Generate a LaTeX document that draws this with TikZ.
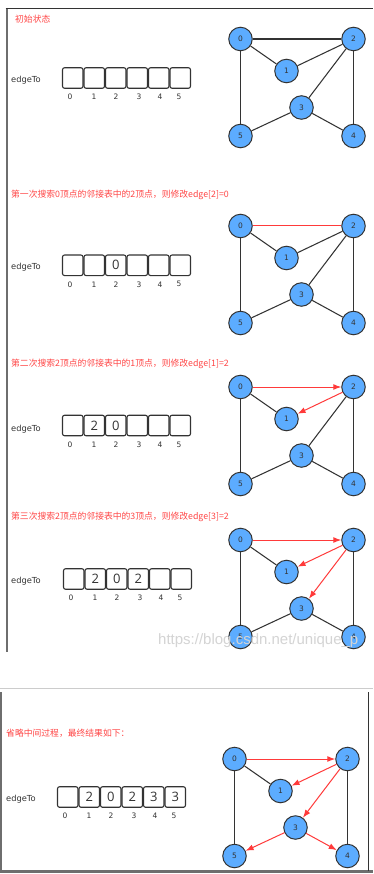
\documentclass[tikz,border=0pt]{standalone}
\usepackage{fontspec}
\setmainfont{DejaVu Sans}
\newfontfamily\cjkfont{Noto Sans CJK SC}
\newfontfamily\valfont{Open Sans}
\newfontfamily\wmfont{Liberation Sans}
\usetikzlibrary{arrows.meta}

\definecolor{nodeblue}{RGB}{92,172,255}
\definecolor{edgegray}{RGB}{51,51,51}
\definecolor{hired}{RGB}{255,58,58}
\definecolor{notered}{RGB}{255,70,70}
\definecolor{framegray}{RGB}{110,110,110}

\tikzset{
  vertex/.style={circle, draw=edgegray, fill=nodeblue, line width=1pt,
    minimum size=23.5pt, inner sep=0pt, text=edgegray,
    font=\fontsize{7.5}{8}\selectfont},
  edge/.style={draw=edgegray, line width=1.05pt},
  hot/.style={draw=hired, line width=1pt},
  hotarrow/.style={hot, -{Latex[length=8pt,width=6pt]}},
  cell/.style={draw=edgegray, rounded corners=2pt, line width=1.1pt,
    minimum width=20.5pt, minimum height=20.5pt, inner sep=0pt, text=edgegray,
    font=\valfont\fontsize{13}{14}\selectfont},
  idx/.style={inner sep=0pt, text=edgegray, font=\fontsize{7.5}{8}\selectfont},
  caption/.style={anchor=west, inner sep=0pt, text=notered,
    font=\cjkfont\fontsize{8.8}{10}\selectfont},
  arrlabel/.style={anchor=west, inner sep=0pt, text=edgegray,
    font=\fontsize{8.3}{10}\selectfont},
}

% the edgeTo array: prefix, left x, centre y, six entries
\newcommand\edgearray[9]{%
  \node[cell] (#1-c0) at (#2+10.75,#3) {#4};
  \node[cell] (#1-c1) at (#2+32.25,#3) {#5};
  \node[cell] (#1-c2) at (#2+53.75,#3) {#6};
  \node[cell] (#1-c3) at (#2+75.25,#3) {#7};
  \node[cell] (#1-c4) at (#2+96.75,#3) {#8};
  \node[cell] (#1-c5) at (#2+118.25,#3) {#9};
  \node[idx] (#1-i0) at (#2+8,#3+19) {0};
  \node[idx] (#1-i1) at (#2+32,#3+19) {1};
  \node[idx] (#1-i2) at (#2+54,#3+19) {2};
  \node[idx] (#1-i3) at (#2+77,#3+19) {3};
  \node[idx] (#1-i4) at (#2+98,#3+19) {4};
  \node[idx] (#1-i5) at (#2+117,#3+19) {5};
}

% the six vertices: prefix, position of vertex 0
\newcommand\graphnodes[3]{%
  \node[vertex] (#1-0) at (#2,#3) {0};
  \node[vertex] (#1-2) at (#2+113,#3) {2};
  \node[vertex] (#1-1) at (#2+46,#3+32) {1};
  \node[vertex] (#1-3) at (#2+61,#3+68.5) {3};
  \node[vertex] (#1-5) at (#2,#3+97) {5};
  \node[vertex] (#1-4) at (#2+113,#3+97) {4};
}

\begin{document}
\begin{tikzpicture}[x=1pt,y=-1pt]
\useasboundingbox (0,0) rectangle (373,874);
\fill[white] (0,0) rectangle (373,874);

% frames
\draw[framegray, line width=2pt] (6.5,8) -- (6.5,652);
\draw[edgegray, line width=1.2pt] (5.5,8.5) -- (373,8.5);
\draw[black!20, line width=1pt] (0,688) -- (373,688);
\draw[framegray, line width=2.5pt] (1.2,692) -- (1.2,871.5) -- (373,871.5);
\draw[edgegray, line width=1pt] (368.5,692) -- (368.5,871);

% ---------- initial state ----------
\node[caption] (t1) at (15,19) {初始状态};
\node[arrlabel] (l1) at (11,80) {edgeTo};
\edgearray{a1}{62}{78}{}{}{}{}{}{}
\graphnodes{g1}{240.5}{39}
\draw[edge] (g1-0) -- (g1-2);
\draw[edge] (g1-0) -- (g1-1);
\draw[edge] (g1-1) -- (g1-2);
\draw[edge] (g1-2) -- (g1-3);
\draw[edge] (g1-2) -- (g1-4);
\draw[edge] (g1-0) -- (g1-5);
\draw[edge] (g1-5) -- (g1-3);
\draw[edge] (g1-3) -- (g1-4);

% ---------- step 1 ----------
\node[caption] (t2) at (11,195) {第一次搜索0顶点的邻接表中的2顶点，则修改edge[2]=0};
\node[arrlabel] (l2) at (11,267) {edgeTo};
\edgearray{a2}{62}{265.3}{}{}{0}{}{}{}
\graphnodes{g2}{240.5}{226}
\draw[hot] (g2-0) -- (g2-2);
\draw[edge] (g2-0) -- (g2-1);
\draw[edge] (g2-1) -- (g2-2);
\draw[edge] (g2-2) -- (g2-3);
\draw[edge] (g2-2) -- (g2-4);
\draw[edge] (g2-0) -- (g2-5);
\draw[edge] (g2-5) -- (g2-3);
\draw[edge] (g2-3) -- (g2-4);

% ---------- step 2 ----------
\node[caption] (t3) at (11,364) {第二次搜索2顶点的邻接表中的1顶点，则修改edge[1]=2};
\node[arrlabel] (l3) at (11,429) {edgeTo};
\edgearray{a3}{62}{425.5}{}{2}{0}{}{}{}
\graphnodes{g3}{240.5}{387}
\draw[hotarrow] (g3-0) -- (g3-2);
\draw[hotarrow] (g3-2) -- (g3-1);
\draw[edge] (g3-0) -- (g3-1);
\draw[edge] (g3-2) -- (g3-3);
\draw[edge] (g3-2) -- (g3-4);
\draw[edge] (g3-0) -- (g3-5);
\draw[edge] (g3-5) -- (g3-3);
\draw[edge] (g3-3) -- (g3-4);

% ---------- step 3 ----------
\node[caption] (t4) at (11,517) {第三次搜索2顶点的邻接表中的3顶点，则修改edge[3]=2};
\node[arrlabel] (l4) at (11,581) {edgeTo};
\edgearray{a4}{63}{579}{}{2}{0}{2}{}{}
\graphnodes{g4}{240.5}{540}
\draw[hotarrow] (g4-0) -- (g4-2);
\draw[hotarrow] (g4-2) -- (g4-1);
\draw[hotarrow] (g4-2) -- (g4-3);
\draw[edge] (g4-0) -- (g4-1);
\draw[edge] (g4-2) -- (g4-4);
\draw[edge] (g4-0) -- (g4-5);
\draw[edge] (g4-5) -- (g4-3);
\draw[edge] (g4-3) -- (g4-4);
\node[anchor=west, inner sep=0pt, text=black!17, font=\wmfont\fontsize{15}{16}\selectfont]
  (wm) at (158,641) {https://blog.csdn.net/unique\_p};

% ---------- final result ----------
\node[caption] (t5) at (6,733.3) {省略中间过程，最终结果如下：};
\node[arrlabel] (l5) at (6,799.3) {edgeTo};
\edgearray{a5}{57}{797}{}{2}{0}{2}{3}{3}
\graphnodes{g5}{234.5}{759}
\draw[hotarrow] (g5-0) -- (g5-2);
\draw[hotarrow] (g5-2) -- (g5-1);
\draw[hotarrow] (g5-2) -- (g5-3);
\draw[hotarrow] (g5-3) -- (g5-5);
\draw[hotarrow] (g5-3) -- (g5-4);
\draw[edge] (g5-0) -- (g5-1);
\draw[edge] (g5-0) -- (g5-5);
\draw[edge] (g5-2) -- (g5-4);
\end{tikzpicture}
\end{document}
